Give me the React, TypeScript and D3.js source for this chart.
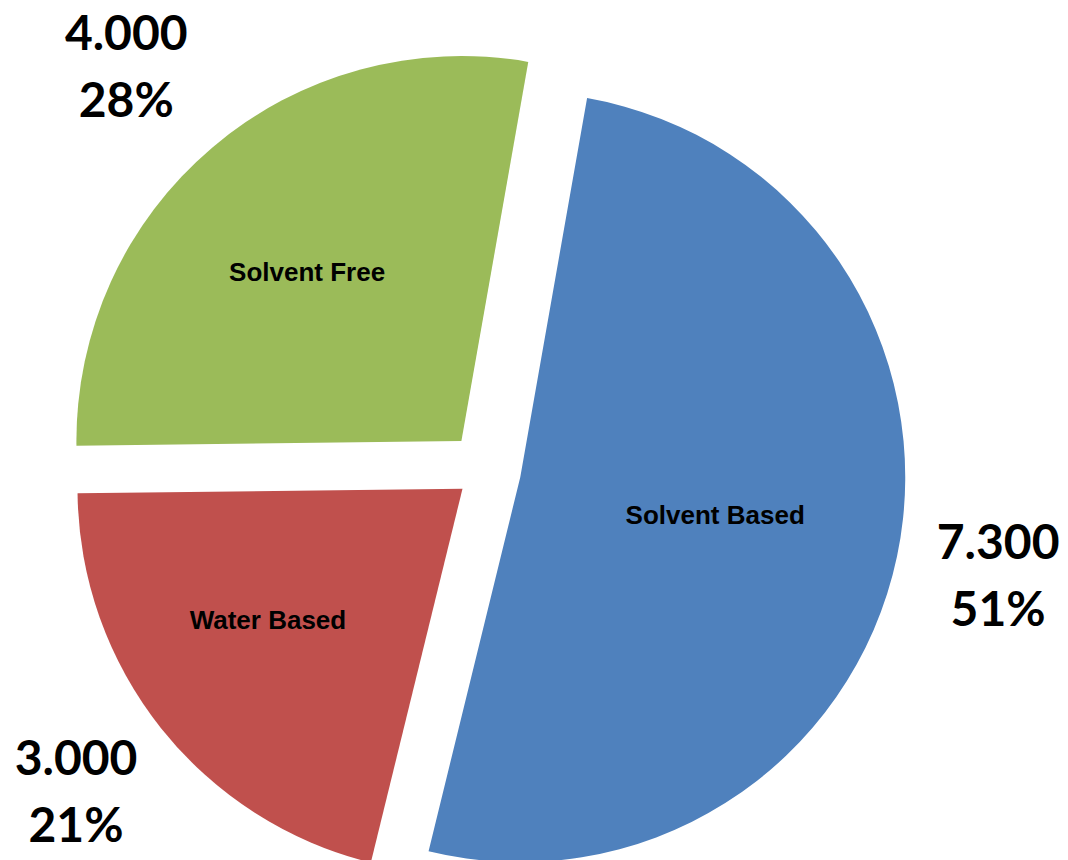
import React, { useEffect, useRef } from "react";
import * as d3 from "d3";

const categories = ["Solvent Based", "Water Based", "Solvent Free"];
const values = [7.3, 3.0, 4.0];
const valueLabels = ["7.300", "3.000", "4.000"];
const colors = ["#4F81BD", "#C0504D", "#9BBB59"];

// per-slice explosion distance (px)
const explodeBy = [35, 30, 38];
// label placement: distance as fraction of radius, angle nudge in degrees
const innerLabelR = [0.516, 0.61, 0.595];
const innerLabelShift = [-0.8, 4.4, -2];
const outerLabelR = [1.267, 1.275, 1.306];
const outerLabelShift = [-0.3, 0.4, -1.45];

const App = () => {
  const svgRef = useRef<SVGSVGElement>(null);

  useEffect(() => {
    const width = 1068;
    const height = 860;
    const cx = 486;
    const cy = 470;
    const radius = 385;
    const startAngle = (10 * Math.PI) / 180;
    const deg = Math.PI / 180;

    const svg = d3.select(svgRef.current)
      .attr("width", width)
      .attr("height", height);

    svg.selectAll("*").remove();

    const total = d3.sum(values);

    const pie = d3.pie<number>()
      .sort(null)
      .value(d => d)
      .startAngle(startAngle)
      .endAngle(startAngle + 2 * Math.PI);

    const arc = d3.arc<d3.PieArcDatum<number>>()
      .innerRadius(0)
      .outerRadius(radius);

    const arcs = pie(values);
    const mid = (d: d3.PieArcDatum<number>) => (d.startAngle + d.endAngle) / 2;

    const g = svg.append("g")
      .attr("transform", `translate(${cx},${cy})`);

    const slice = g.selectAll("g.slice")
      .data(arcs)
      .enter()
      .append("g")
      .attr("class", "slice")
      .attr("transform", (d, i) =>
        `translate(${explodeBy[i] * Math.sin(mid(d))},${-explodeBy[i] * Math.cos(mid(d))})`);

    slice.append("path")
      .attr("d", arc)
      .attr("fill", (_, i) => colors[i]);

    // category names inside the slices
    slice.append("text")
      .attr("x", (d, i) => innerLabelR[i] * radius * Math.sin(mid(d) + innerLabelShift[i] * deg))
      .attr("y", (d, i) => -innerLabelR[i] * radius * Math.cos(mid(d) + innerLabelShift[i] * deg) + 9)
      .attr("text-anchor", "middle")
      .style("font-family", "'Liberation Sans', Arial, sans-serif")
      .style("font-weight", "bold")
      .style("font-size", "26px")
      .attr("fill", "#000")
      .text((_, i) => categories[i]);

    // value + percent outside
    const outer = slice.append("g")
      .attr("transform", (d, i) => {
        const a = mid(d) + outerLabelShift[i] * deg;
        const r = outerLabelR[i] * radius;
        return `translate(${r * Math.sin(a)},${-r * Math.cos(a)})`;
      });

    outer.append("text")
      .attr("y", -16)
      .attr("text-anchor", "middle")
      .style("font-family", "Lato, 'Open Sans', sans-serif")
      .style("font-weight", "bold")
      .style("font-size", "48px")
      .attr("fill", "#000")
      .text((_, i) => valueLabels[i]);

    outer.append("text")
      .attr("y", 51)
      .attr("text-anchor", "middle")
      .style("font-family", "Lato, 'Open Sans', sans-serif")
      .style("font-weight", "bold")
      .style("font-size", "48px")
      .attr("fill", "#000")
      .text((_, i) => `${Math.round((values[i] / total) * 100)}%`);
  }, []);

  return (
    <svg
      ref={svgRef}
      style={{ position: "absolute", left: 0, top: 0, background: "#fff" }}
    ></svg>
  );
};

export default App;
